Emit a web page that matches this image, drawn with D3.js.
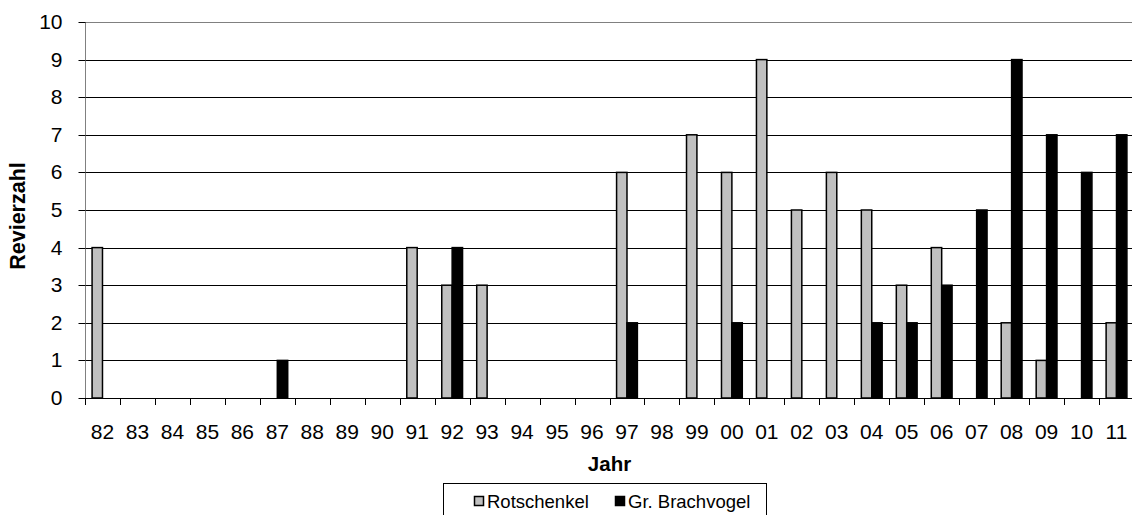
<!DOCTYPE html>
<html><head><meta charset="utf-8">
<script src="https://cdn.jsdelivr.net/npm/d3@7"></script>
<style>body{margin:0;background:#fff;} svg{display:block;font-family:Arial,"Liberation Sans",sans-serif;}</style>
</head><body><svg id="c" width="1132" height="515"></svg>
<script>
const years = ["82","83","84","85","86","87","88","89","90","91","92","93","94","95","96","97","98","99","00","01","02","03","04","05","06","07","08","09","10","11"];
const rotschenkel = [4,0,0,0,0,0,0,0,0,4,3,3,0,0,0,6,0,7,6,9,5,6,5,3,4,0,2,1,0,2];
const brachvogel  = [0,0,0,0,0,1,0,0,0,0,4,0,0,0,0,2,0,0,2,0,0,0,2,2,3,5,9,7,6,7];
const seriesNames = ["Rotschenkel","Gr. Brachvogel"];
const seriesColors = ["#c0c0c0","#000000"];
const yTicks = [0,1,2,3,4,5,6,7,8,9,10];

const svg = d3.select("#c");
const L = 85, R = 1134, T = 22, B = 398;
const x = d3.scaleBand().domain(years).range([L, R]).paddingInner(0).paddingOuter(0);
const y = d3.scaleLinear().domain([0,10]).range([B, T]);
const bw = 10.4;
const FONT = "Arial, 'Liberation Sans', sans-serif";

// gridlines
svg.append("g").selectAll("line").data(yTicks.filter(d=>d>0)).join("line")
  .attr("x1", L).attr("x2", R)
  .attr("y1", d=>Math.round(y(d))+0.5).attr("y2", d=>Math.round(y(d))+0.5)
  .attr("stroke", d=> d===10 ? "#808080" : "#000").attr("stroke-width",1);

// y axis
const ya = svg.append("g").attr("transform", `translate(${L+0.5},0)`)
  .call(d3.axisLeft(y).tickValues(yTicks).tickSize(7).tickPadding(16).tickFormat(d3.format("d")));
ya.select(".domain").attr("stroke","#808080").attr("d", `M0,${T}V${B}`);
ya.selectAll(".tick line").attr("stroke","#000");
ya.selectAll("text").attr("font-size",21).attr("fill","#000").attr("font-family",FONT);
ya.selectAll(".tick").attr("transform", d=>`translate(0,${Math.round(y(d))+0.5})`);

// bars
const data = [rotschenkel, brachvogel];
data.forEach((vals, si) => {
  svg.append("g").selectAll("rect").data(years.map((yr,i)=>({yr, v: vals[i]})).filter(d=>d.v>0)).join("rect")
    .attr("x", d => x(d.yr) + x.bandwidth()/2 - bw + si*bw)
    .attr("width", bw)
    .attr("y", d => y(d.v))
    .attr("height", d => y(0) - y(d.v))
    .attr("fill", seriesColors[si]).attr("stroke","#000").attr("stroke-width",1.5);
});

// x axis
const xa = svg.append("g").attr("transform", `translate(0,${B+0.5})`)
  .call(d3.axisBottom(x).tickSize(0).tickPadding(26));
xa.select(".domain").attr("stroke","#000").attr("d", `M${L},0H${R}`);
xa.selectAll("text").attr("font-size",21).attr("fill","#000").attr("font-family",FONT);
// ticks between categories
svg.append("g").selectAll("line").data(d3.range(years.length+1)).join("line")
  .attr("x1", i => Math.round(L + i*x.bandwidth())+0.5).attr("x2", i => Math.round(L + i*x.bandwidth())+0.5)
  .attr("y1", B).attr("y2", B+7).attr("stroke","#000");

// titles
svg.append("text").attr("x", (L+R)/2).attr("y", 471).attr("text-anchor","middle")
  .attr("font-weight","bold").attr("font-size",20.5).text("Jahr");
svg.append("text").attr("transform", `translate(25,${(T+B)/2+6}) rotate(-90)`).attr("text-anchor","middle")
  .attr("font-weight","bold").attr("font-size",21.5).text("Revierzahl");

// legend
const lg = svg.append("g");
lg.append("rect").attr("x",443.5).attr("y",483.5).attr("width",323).attr("height",40).attr("fill","#fff").attr("stroke","#000");
const lx = [474, 615];
seriesNames.forEach((n,i)=>{
  lg.append("rect").attr("x",lx[i]+0.5).attr("y",496.5).attr("width",9).attr("height",9)
    .attr("fill",seriesColors[i]).attr("stroke","#000").attr("stroke-width",1.5);
  lg.append("text").attr("x",lx[i]+13).attr("y",508).attr("font-size",18.5).text(n);
});
</script></body></html>
